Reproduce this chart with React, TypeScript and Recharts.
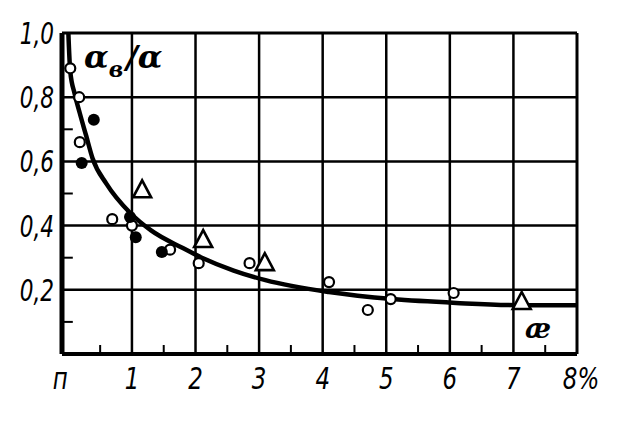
import React from 'react';
import { ComposedChart, Line, Scatter, XAxis, YAxis, ReferenceLine } from 'recharts';

// ---- axes / ticks ----
const xTicks = [0, 1, 2, 3, 4, 5, 6, 7, 8];
const xTickLabels = ['п', '1', '2', '3', '4', '5', '6', '7', '8%'];
const yTicks = [0.2, 0.4, 0.6, 0.8, 1.0];
const yTickLabels = ['0,2', '0,4', '0,6', '0,8', '1,0'];
const xGrid = [1, 2, 3, 4, 5, 6, 7, 8];
const yGrid = [0.2, 0.4, 0.6, 0.8, 1.0];
const xMinor = [0.5, 1.5, 2.5, 3.5, 4.5, 5.5, 6.5, 7.5];
const yMinor = [0.1, 0.3, 0.5, 0.7];

// ---- fitted curve ----
const curveX = [0, 0.03, 0.1, 0.18, 0.28, 0.38, 0.6, 0.97, 1.3, 1.8, 2.1, 2.6, 3.1, 4.1, 5.1, 6.1, 7.1, 8];
const curveY = [1.0, 0.88, 0.81, 0.75, 0.68, 0.61, 0.53, 0.44, 0.385, 0.33, 0.3, 0.26, 0.23, 0.193, 0.171, 0.159, 0.152, 0.152];

// ---- open circles ----
const openX = [0.03, 0.17, 0.18, 0.69, 1.0, 1.6, 2.05, 2.85, 4.1, 4.71, 5.07, 6.06];
const openY = [0.89, 0.8, 0.66, 0.42, 0.4, 0.325, 0.283, 0.283, 0.224, 0.137, 0.171, 0.19];

// ---- filled circles ----
const filledX = [0.4, 0.21, 0.97, 1.06, 1.47];
const filledY = [0.73, 0.595, 0.427, 0.364, 0.318];

// ---- triangles ----
const triX = [1.16, 2.12, 3.09, 7.13];
const triY = [0.51, 0.355, 0.283, 0.162];

const zip = (xs: number[], ys: number[]) => xs.map((x, i) => ({ x, y: ys[i] }));
const curveData = zip(curveX, curveY);
const openData = zip(openX, openY);
const filledData = zip(filledX, filledY);
const triData = zip(triX, triY);

const FONT = "'Liberation Sans Narrow', 'DejaVu Sans Condensed', sans-serif";

const XTick = (props: any) => {
  const { x, y, payload } = props;
  const idx = xTicks.findIndex((v) => Math.abs(v - Number(payload.value)) < 1e-6);
  const label = idx >= 0 ? xTickLabels[idx] : '';
  const dx = Number(payload.value) === 0 ? -8 : Number(payload.value) === 8 ? 4 : 0;
  return (
    <text
      transform={`translate(${x + dx},${y + 35}) scale(0.85,1)`}
      textAnchor="middle"
      fontSize={30}
      fontStyle="italic"
      fontFamily={FONT}
      fill="#000"
    >
      {label}
    </text>
  );
};

const YTick = (props: any) => {
  const { x, y, payload } = props;
  const idx = yTicks.findIndex((v) => Math.abs(v - Number(payload.value)) < 1e-6);
  if (idx < 0) return <g />;
  return (
    <text
      transform={`translate(${x - 8},${y + 11}) scale(0.8,1)`}
      textAnchor="end"
      fontSize={30}
      fontStyle="italic"
      fontFamily={FONT}
      fill="#000"
    >
      {yTickLabels[idx]}
    </text>
  );
};

const OpenCircle = (p: any) => (
  <circle cx={p.cx} cy={p.cy} r={5} fill="#fff" stroke="#000" strokeWidth={2.2} />
);
const FilledCircle = (p: any) => <circle cx={p.cx} cy={p.cy} r={6} fill="#000" />;
const Triangle = (p: any) => (
  <polygon
    points={`${p.cx},${p.cy - 10} ${p.cx - 9},${p.cy + 7} ${p.cx + 9},${p.cy + 7}`}
    fill="#fff"
    stroke="#000"
    strokeWidth={2.6}
    strokeLinejoin="miter"
  />
);

export default function App() {
  return (
    <div style={{ position: 'absolute', left: 0, top: 0, width: 622, height: 427, background: '#fff' }}>
      <ComposedChart width={622} height={427} margin={{ top: 33, left: 0, right: 45, bottom: 0 }}>
        <XAxis
          type="number"
          dataKey="x"
          domain={[-0.1, 8]}
          ticks={xTicks}
          interval={0}
          allowDataOverflow
          tickLine={false}
          tickSize={0}
          tickMargin={0}
          height={73}
          axisLine={{ stroke: '#000', strokeWidth: 4 }}
          tick={XTick}
        />
        <YAxis
          type="number"
          dataKey="y"
          domain={[0, 1]}
          ticks={yTicks}
          interval={0}
          allowDataOverflow
          tickLine={false}
          tickSize={0}
          tickMargin={0}
          width={62}
          axisLine={{ stroke: '#000', strokeWidth: 5 }}
          tick={YTick}
        />
        {xGrid.map((v) => (
          <ReferenceLine key={'gx' + v} x={v} stroke="#000" strokeWidth={v === 8 ? 3 : 2.5} ifOverflow="visible" />
        ))}
        {yGrid.map((v) => (
          <ReferenceLine key={'gy' + v} y={v} stroke="#000" strokeWidth={v === 1 ? 3 : 2.5} ifOverflow="visible" />
        ))}
        {xMinor.map((v) => (
          <ReferenceLine
            key={'mx' + v}
            segment={[{ x: v, y: 0 }, { x: v, y: 0.028 }]}
            stroke="#000"
            strokeWidth={2}
            ifOverflow="visible"
          />
        ))}
        {yMinor.map((v) => (
          <ReferenceLine
            key={'my' + v}
            segment={[{ x: -0.1, y: v }, { x: 0.07, y: v }]}
            stroke="#000"
            strokeWidth={2}
            ifOverflow="visible"
          />
        ))}
        <Line
          data={curveData}
          dataKey="y"
          type="monotone"
          stroke="#000"
          strokeWidth={4.5}
          dot={false}
          activeDot={false}
          isAnimationActive={false}
        />
        <Scatter data={openData} shape={OpenCircle} isAnimationActive={false} />
        <Scatter data={filledData} shape={FilledCircle} isAnimationActive={false} />
        <Scatter data={triData} shape={Triangle} isAnimationActive={false} />
      </ComposedChart>
      <svg width={622} height={427} style={{ position: 'absolute', left: 0, top: 0, pointerEvents: 'none' }}>
        <text x={84} y={68} fontFamily="'DejaVu Serif', serif" fontStyle="italic" fontWeight="bold" fontSize={32} fill="#000">
          α<tspan fontSize={22} dy={9}>в</tspan>
          <tspan dy={-9} dx={3} fontSize={32}>/α</tspan>
        </text>
        <text x={525} y={338} fontFamily="'DejaVu Serif', serif" fontStyle="italic" fontWeight="bold" fontSize={28} fill="#000">
          æ
        </text>
      </svg>
    </div>
  );
}
